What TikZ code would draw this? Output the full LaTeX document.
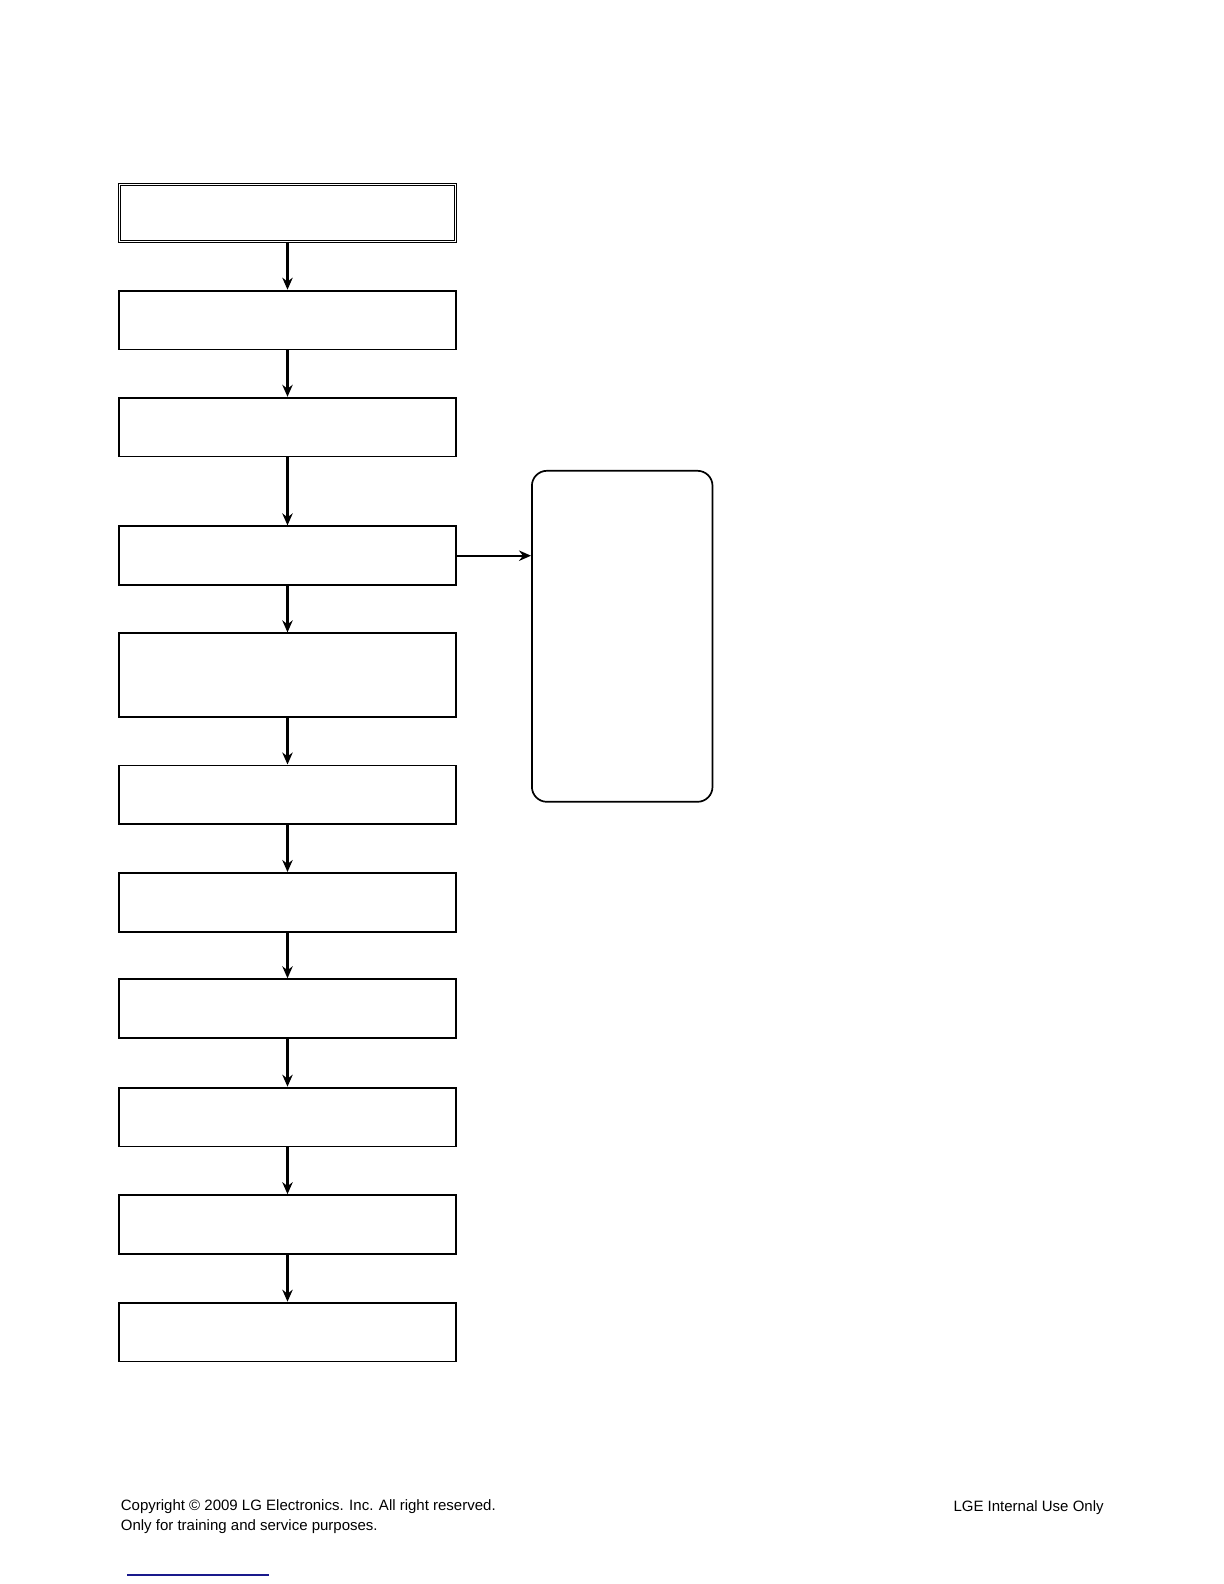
\documentclass[tikz,border=0pt]{standalone}
\usepackage{fontspec}
\setmainfont{Liberation Sans}
\usepackage{tikz}
\usetikzlibrary{positioning,arrows.meta,shapes}
\usepackage{xcolor}
\definecolor{linkblue}{RGB}{25,25,140}

\begin{document}
\begin{tikzpicture}[x=0.5bp,y=-0.5bp,>={Stealth[length=6bp,width=5.2bp]},
  stepbox/.style={draw,line width=0.9bp,inner sep=0pt,minimum width=168.3bp,minimum height=29.4bp},
  firstbox/.style={draw,double,line width=0.5bp,double distance=0.6bp,inner sep=0pt,minimum width=167.6bp,minimum height=28.4bp},
  sidebox/.style={draw,line width=0.85bp,rounded corners=7.5bp,inner sep=0pt,minimum width=90.3bp,minimum height=165.5bp},
  flow/.style={->,line width=1.1bp},
  foot/.style={inner sep=0pt,font=\fontsize{7.5bp}{9.7bp}\selectfont}]
  \useasboundingbox (0,0) rectangle (1224,1584);

  \node[firstbox] (b1) at (287.5,212.7) {};
  \node[stepbox] (b2) at (287.5,320) {};
  \node[stepbox] (b3) at (287.5,427.1) {};
  \node[stepbox] (b4) at (287.5,555.7) {};
  \node[stepbox,minimum height=42bp] (b5) at (287.5,675.3) {};
  \node[stepbox] (b6) at (287.5,794.8) {};
  \node[stepbox] (b7) at (287.5,902.3) {};
  \node[stepbox] (b8) at (287.5,1008.6) {};
  \node[stepbox] (b9) at (287.5,1117) {};
  \node[stepbox] (b10) at (287.5,1224.5) {};
  \node[stepbox] (b11) at (287.5,1332) {};

  \node[sidebox] (side) at (622.2,636.3) {};

  \foreach \i/\j in {1/2,2/3,3/4,4/5,5/6,6/7,7/8,8/9,9/10,10/11}
    \draw[flow] (b\i) -- (b\j);
  \draw[flow] (b4.east) -- (b4.east -| side.west);

  \node[foot,anchor=base west,align=left] (copy) at (120.5,1530)
    {Copyright © 2009 LG Electronics. Inc. All right reserved.\\Only for training and service purposes.};
  \node[foot,anchor=base east] (use) at (1104,1511.7) {LGE Internal Use Only};
  \coordinate (ul1) at (127.3,1575);
  \coordinate (ul2) at (269,1575);
  \draw[linkblue,line width=0.65bp] (ul1) -- (ul2);
\end{tikzpicture}
\end{document}
